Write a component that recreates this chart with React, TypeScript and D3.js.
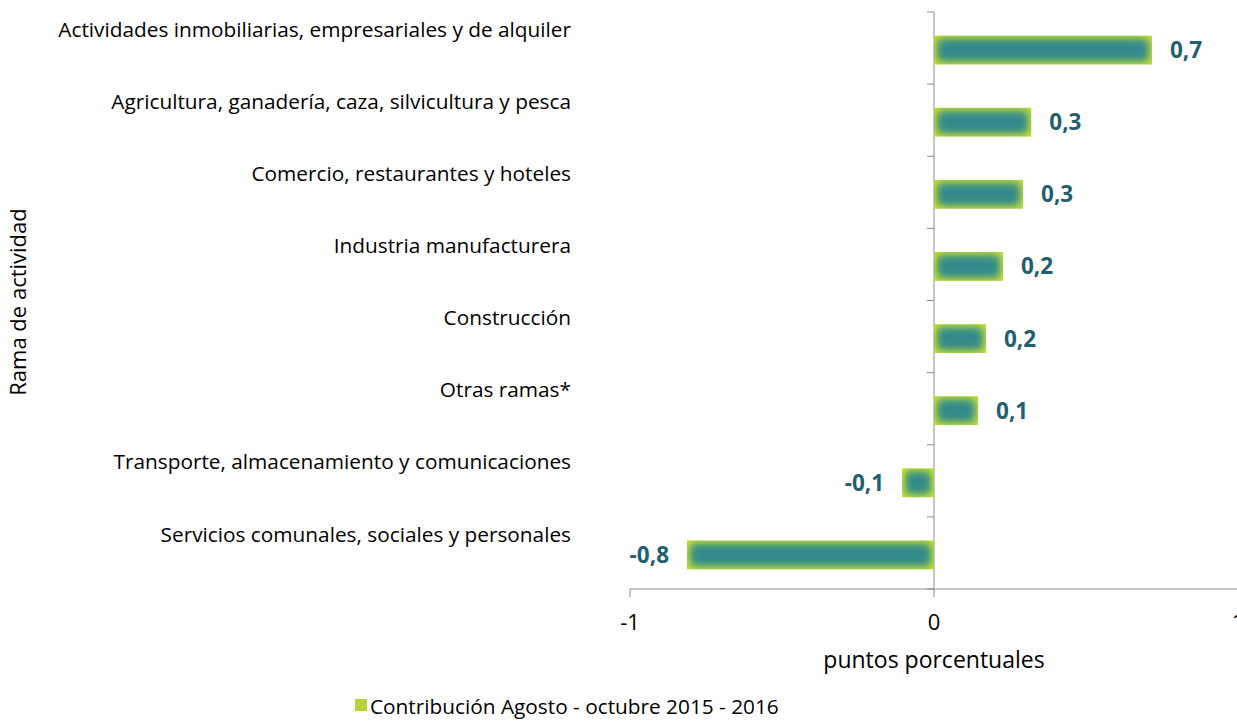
import React from "react";
import * as d3 from "d3";

const categories = [
  "Actividades inmobiliarias, empresariales y de alquiler",
  "Agricultura, ganadería, caza, silvicultura y pesca",
  "Comercio, restaurantes y hoteles",
  "Industria manufacturera",
  "Construcción",
  "Otras ramas*",
  "Transporte, almacenamiento y comunicaciones",
  "Servicios comunales, sociales y personales",
];
const values = [0.717, 0.32, 0.293, 0.227, 0.171, 0.145, -0.105, -0.8125];
const valueLabels = ["0,7", "0,3", "0,3", "0,2", "0,2", "0,1", "-0,1", "-0,8"];
const xTicks = [-1, 0, 1];
const seriesName = "Contribución Agosto - octubre 2015 - 2016";

const W = 1237;
const H = 721;
const FONT = "'Open Sans', sans-serif";

export default function App() {
  const x = d3.scaleLinear().domain([-1, 1]).range([630, 1238]);
  const y = d3.scaleBand().domain(categories).range([12, 589]).paddingInner(0.6).paddingOuter(0.3);
  const band = (589 - 12) / categories.length;
  const x0 = x(0);
  const axisColor = "#8c8c8c";
  const off = 2;
  return (
    <svg width={W} height={H} style={{ position: "absolute", left: 0, top: 0, background: "#fff" }}>
      <defs>
        <filter id="blur" x="-30%" y="-60%" width="160%" height="220%">
          <feGaussianBlur stdDeviation="4.5" />
        </filter>
        {categories.map((c, i) => {
          const v = values[i];
          const bx = Math.min(x(v), x0);
          const bw = Math.abs(x(v) - x0);
          const by = (y(c) as number) + off;
          return (
            <clipPath id={`clip${i}`} key={c}>
              <rect x={bx} y={by} width={bw} height={y.bandwidth()} />
            </clipPath>
          );
        })}
      </defs>
      {/* y-axis */}
      <line x1={x0} x2={x0} y1={12} y2={589} stroke={axisColor} strokeWidth={1} />
      {d3.range(categories.length + 1).map((i) => (
        <line key={i} x1={x0 - 7} x2={x0} y1={12 + i * band} y2={12 + i * band} stroke={axisColor} />
      ))}
      {/* x-axis */}
      <line x1={x(-1)} x2={x(1)} y1={589} y2={589} stroke={axisColor} />
      {xTicks.map((t) => (
        <g key={t}>
          <line x1={x(t)} x2={x(t)} y1={589} y2={597} stroke={axisColor} />
          <text x={x(t)} y={630} textAnchor="middle" fontFamily={FONT} fontSize={22} fill="#000">
            {t}
          </text>
        </g>
      ))}
      {/* bars */}
      {categories.map((c, i) => {
        const v = values[i];
        const bx = Math.min(x(v), x0);
        const bw = Math.abs(x(v) - x0);
        const by = (y(c) as number) + off;
        const bh = y.bandwidth();
        return (
          <g key={c}>
            <rect x={bx} y={by} width={bw} height={bh} fill="#cde432" />
            <g clipPath={`url(#clip${i})`}>
              <rect x={bx + 3} y={by + 3} width={Math.max(bw - 6, 2)} height={bh - 6} fill="#3a8f84" filter="url(#blur)" />
              <rect x={bx + 8} y={by + 8} width={Math.max(bw - 16, 1)} height={Math.max(bh - 16, 1)} fill="#30898d" filter="url(#blur)" />
            </g>
            <text
              x={v >= 0 ? x(v) + 18 : x(v) - 18}
              y={by + bh / 2 + 8}
              textAnchor={v >= 0 ? "start" : "end"}
              fontFamily={FONT}
              fontWeight="bold"
              fontSize={22.5}
              fill="#1f5f6e"
            >
              {valueLabels[i]}
            </text>
            <text
              x={571}
              y={(y(c) as number) + 3}
              textAnchor="end"
              fontFamily={FONT}
              fontSize={20.8}
              fill="#000"
            >
              {c}
            </text>
          </g>
        );
      })}
      {/* axis titles */}
      <text x={x0} y={668} textAnchor="middle" fontFamily={FONT} fontSize={23} fill="#000">
        puntos porcentuales
      </text>
      <text
        transform={`translate(${26},${302}) rotate(-90)`}
        textAnchor="middle"
        fontFamily={FONT}
        fontSize={22}
        fill="#000"
      >
        Rama de actividad
      </text>
      {/* legend */}
      <rect x={355} y={699} width={12} height={12} fill="#b5d334" />
      <text x={370} y={714} fontFamily={FONT} fontSize={20.8} fill="#000">
        {seriesName}
      </text>
    </svg>
  );
}
